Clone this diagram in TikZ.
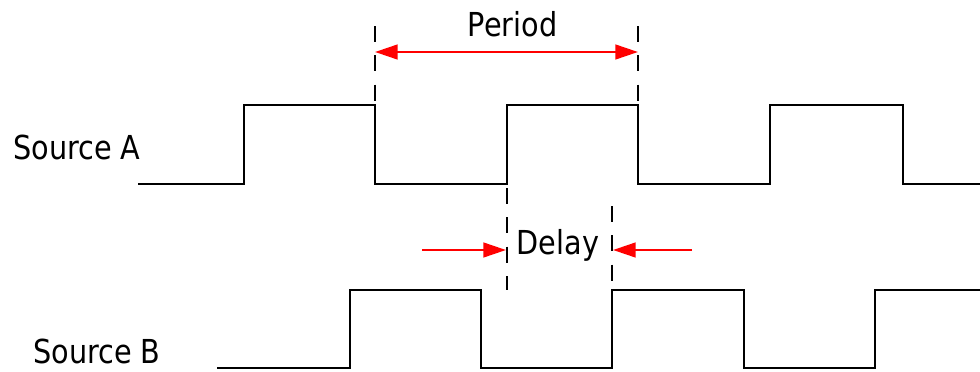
\documentclass[tikz,border=0pt]{standalone}
\usepackage{fontspec}
\setmainfont{DejaVu Sans}[FakeStretch=0.87]
\usetikzlibrary{arrows.meta}
\tikzset{
tdwave/.style={draw=black,line width=2.1pt,line join=miter},
tddash/.style={draw=black,line width=1.8pt,dash pattern=on 12pt off 10pt},
tdarr/.style={-{Triangle[length=17pt,width=11pt]},draw=red,line width=1.8pt},
tddarr/.style={{Triangle[length=17pt,width=11pt]}-{Triangle[length=17pt,width=11pt]},draw=red,line width=1.8pt},
tdlabel/.style={inner sep=0pt,font=\fontsize{24.75}{30}\selectfont}
}
\begin{document}
\begin{tikzpicture}[
x=0.75pt,
y=-0.75pt
]
\useasboundingbox (0,0) rectangle (980,371);
% signal names and measures
\node[tdlabel,anchor=base west] (srcA) at (13,159) {Source A};
\node[tdlabel,anchor=base west] (srcB) at (33,363) {Source B};
\node[tdlabel,anchor=base] (period) at (512.5,36) {Period};
\node[tdlabel,anchor=base] (delay) at (558,254) {Delay};
% waveforms
\draw[tdwave] (138,184) -- (244,184) -- (244,105) -- (375,105) -- (375,184)
  -- (507,184) -- (507,105) -- (638,105) -- (638,184) -- (770,184)
  -- (770,105) -- (903,105) -- (903,184) -- (980,184);
\draw[tdwave] (217,368) -- (350,368) -- (350,290) -- (481,290) -- (481,368)
  -- (612,368) -- (612,290) -- (744,290) -- (744,368) -- (875,368)
  -- (875,290) -- (980,290);
% period markers
\coordinate (perLtop) at (375,26);
\coordinate (perLbot) at (375,105);
\coordinate (perRtop) at (638,26);
\coordinate (perRbot) at (638,105);
\coordinate (perL) at (375,52);
\coordinate (perR) at (638,52);
\draw[tddash] (perLtop) -- (perLbot);
\draw[tddash] (perRtop) -- (perRbot);
\draw[tddarr] (perL) -- (perR);
% delay markers
\coordinate (dlyLtop) at (507,188);
\coordinate (dlyLbot) at (507,290);
\coordinate (dlyRtop) at (612,206);
\coordinate (dlyRbot) at (612,290);
\coordinate (dlyLin) at (422,250);
\coordinate (dlyL) at (506,250);
\coordinate (dlyRin) at (692,250);
\coordinate (dlyR) at (613,250);
\draw[tddash] (dlyLtop) -- (dlyLbot);
\draw[tddash] (dlyRtop) -- (dlyRbot);
\draw[tdarr] (dlyLin) -- (dlyL);
\draw[tdarr] (dlyRin) -- (dlyR);
\end{tikzpicture}
\end{document}
